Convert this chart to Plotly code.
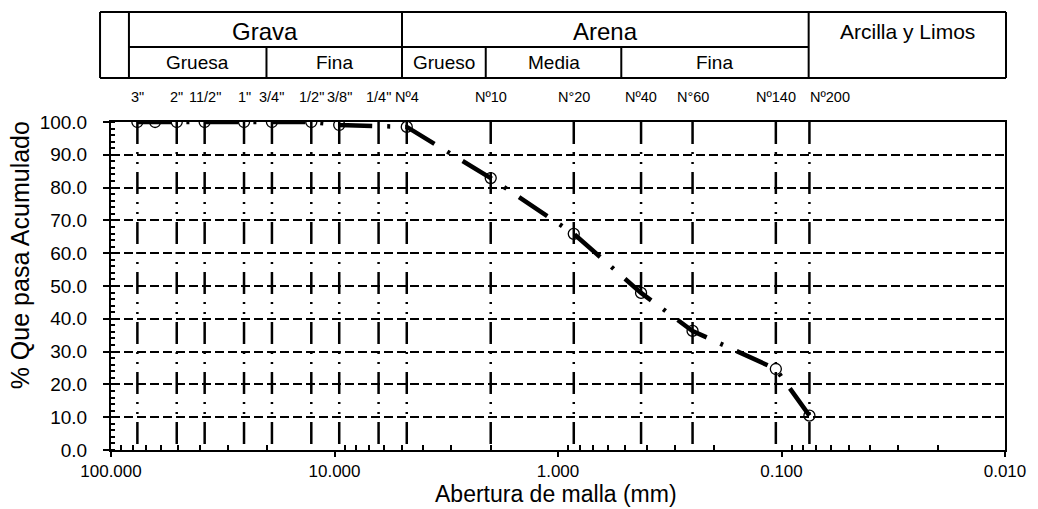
import math
import plotly.graph_objects as go

# ---- data ---------------------------------------------------------------
# sieve openings (mm) with measured percent passing
sizes_mm = [76.2, 63.5, 50.8, 38.1, 25.4, 19.05, 12.7, 9.525, 4.75,
            2.0, 0.85, 0.425, 0.25, 0.106, 0.075]
passing_pct = [100.0, 100.0, 100.0, 100.0, 100.0, 100.0, 100.0, 99.1, 98.5,
               82.9, 65.9, 47.9, 36.3, 24.7, 10.5]

# standard sieves drawn as reference lines
sieve_mm = [76.2, 50.8, 38.1, 25.4, 19.05, 12.7, 9.525, 6.35, 4.75,
            2.0, 0.85, 0.425, 0.25, 0.106, 0.075]
sieve_labels = ['3"', '2"', '11/2"', '1"', '3/4"', '1/2"', '3/8"', '1/4"', 'Nº4',
                'Nº10', 'N°20', 'Nº40', 'N°60', 'Nº140', 'Nº200']

x_tickvals = [100, 10, 1, 0.1, 0.01]
x_ticktext = ["100.000", "10.000", "1.000", "0.100", "0.010"]
y_tickvals = [0, 10, 20, 30, 40, 50, 60, 70, 80, 90, 100]

FONT = "Liberation Sans, Arial, sans-serif"

# ---- page geometry (pixels) ---------------------------------------------
W, H = 1038, 509
L, R, T, B = 111, 30, 122, 59
PW, PH = W - L - R, H - T - B


def fx(px):
    return (px - L) / PW


def fy(py):
    return (H - B - py) / PH


fig = go.Figure()

# sieve reference lines (dash-dot-dot)
for d in sieve_mm:
    fig.add_trace(go.Scatter(
        x=[d, d], y=[100, 0], mode="lines",
        line=dict(color="black", width=2.5, dash="22px,8px,2px,8px,2px,8px"),
        hoverinfo="skip", showlegend=False))

# grading curve
fig.add_trace(go.Scatter(
    x=sizes_mm, y=passing_pct, mode="lines+markers",
    line=dict(color="black", width=4.5, dash="34px,15px,3px,15px"),
    marker=dict(symbol="circle-open", size=11, color="black",
                line=dict(width=1.3, color="black")),
    showlegend=False))

# sieve names above the plot
for d, lab in zip(sieve_mm, sieve_labels):
    fig.add_annotation(x=math.log10(d), xref="x",
                       y=fy(97), yref="paper", text=lab, showarrow=False,
                       xanchor="center", yanchor="middle",
                       xshift=21 if lab == "Nº200" else 0,
                       font=dict(family=FONT, size=14.5, color="black"))

# ---- classification header ----------------------------------------------
x_left, x_in, x_right = 100, 129, 1009
y_top, y_mid, y_bot = 12, 47, 78
x_grava_end, x_arena_end = 403, 811
sub_cols = [129, 267, 403, 487, 623, 811]

line_kw = dict(color="black", width=2)
shapes = []


def seg(x0, y0, x1, y1):
    shapes.append(dict(type="line", xref="paper", yref="paper",
                       x0=fx(x0), y0=fy(y0), x1=fx(x1), y1=fy(y1),
                       line=line_kw))


seg(x_left, y_top, x_right, y_top)
seg(x_left, y_bot, x_right, y_bot)
seg(x_left, y_top, x_left, y_bot)
seg(x_right, y_top, x_right, y_bot)
seg(x_in, y_top, x_in, y_bot)
seg(x_grava_end, y_top, x_grava_end, y_bot)
seg(x_arena_end, y_top, x_arena_end, y_bot)
seg(x_in, y_mid, x_arena_end, y_mid)
for xc in sub_cols[1:-1]:
    if xc != x_grava_end:
        seg(xc, y_mid, xc, y_bot)

fig.update_layout(shapes=shapes)


def header_text(x0, x1, yc, text, size):
    fig.add_annotation(x=fx((x0 + x1) / 2), y=fy(yc), xref="paper", yref="paper",
                       text=text, showarrow=False, xanchor="center", yanchor="middle",
                       font=dict(family=FONT, size=size, color="black"))


header_text(x_in, x_grava_end, 31, "Grava", 24)
header_text(x_grava_end, x_arena_end, 31, "Arena", 24)
header_text(x_arena_end, x_right, 31, "Arcilla y Limos", 21)
sub_names = ["Gruesa", "Fina", "Grueso", "Media", "Fina"]
for i, name in enumerate(sub_names):
    header_text(sub_cols[i], sub_cols[i + 1], 63, name, 19)

# axis titles
fig.add_annotation(x=fx(557), y=0, xref="paper", yref="paper",
                   yshift=-29, yanchor="top",
                   text="Abertura de malla (mm)", showarrow=False,
                   xanchor="center",
                   font=dict(family=FONT, size=23, color="black"))
fig.add_annotation(x=fx(20), y=fy(255), xref="paper", yref="paper",
                   text="% Que pasa Acumulado", showarrow=False, textangle=-90,
                   xanchor="center", yanchor="middle",
                   font=dict(family=FONT, size=25, color="black"))

minor_x = [k * 10 ** e for e in range(-2, 2) for k in range(2, 10)]

fig.update_xaxes(
    type="log", range=[2, -2], tickmode="array", tickvals=x_tickvals,
    ticktext=x_ticktext, showgrid=False, zeroline=False,
    showline=True, linecolor="black", linewidth=2, mirror=True,
    ticks="outside", ticklen=5, tickwidth=2, tickcolor="black",
    ticklabelstandoff=0,
    tickfont=dict(family=FONT, size=17, color="black"),
    minor=dict(tickvals=minor_x, ticks="inside", ticklen=5, tickwidth=1.5,
               tickcolor="black", showgrid=False))

fig.update_yaxes(
    range=[0, 100], tickmode="array", tickvals=y_tickvals, tickformat=".1f",
    showgrid=True, gridcolor="black", gridwidth=2, griddash="9px,4px",
    zeroline=False, showline=True, linecolor="black", linewidth=2, mirror=True,
    ticks="outside", ticklen=6, tickwidth=2, tickcolor="black",
    ticklabelstandoff=12,
    tickfont=dict(family=FONT, size=19, color="black"),
    minor=dict(dtick=2, ticks="inside", ticklen=4, tickwidth=1.5,
               tickcolor="black", showgrid=False))

fig.update_layout(
    width=W, height=H, margin=dict(l=L, r=R, t=T, b=B),
    paper_bgcolor="white", plot_bgcolor="white",
    font=dict(family=FONT, color="black"), showlegend=False)

fig.write_html("out.html")
